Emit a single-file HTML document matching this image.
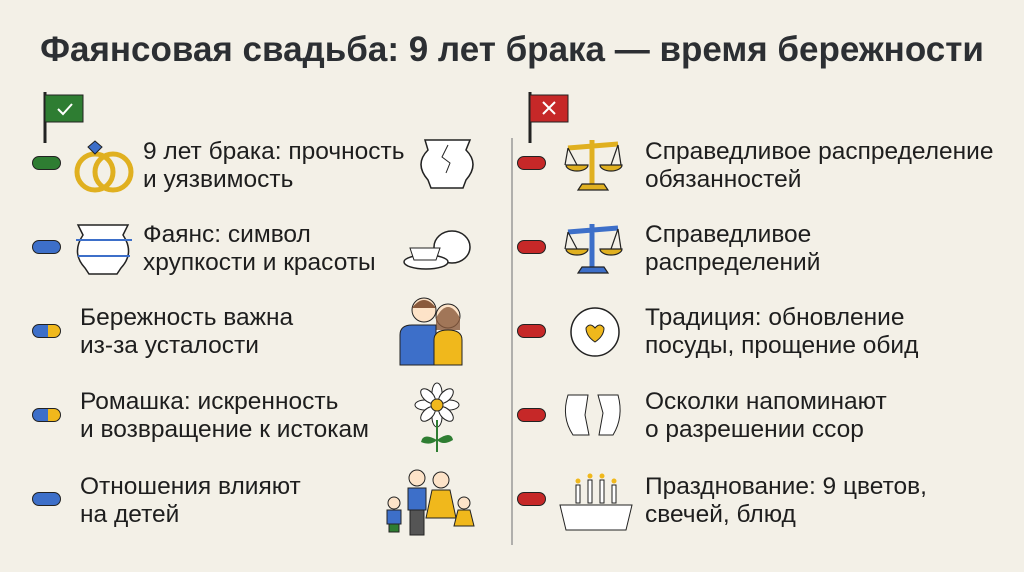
<!DOCTYPE html><html><head><meta charset="utf-8"><style>
body{margin:0;width:1024px;height:572px;background:#f3f0e7;font-family:"Liberation Sans",sans-serif;position:relative;overflow:hidden;color:#1e1e1e}
.t{position:absolute;font-size:24.5px;line-height:28px;white-space:nowrap}
.p{position:absolute;width:29px;height:14px;border-radius:7px;border:1.5px solid #222;box-sizing:border-box}
h1{position:absolute;left:0;width:1024px;top:30px;margin:0;text-align:center;font-size:35px;font-weight:bold;color:#2c2f33}
svg{position:absolute}
</style></head><body>
<h1>Фаянсовая свадьба: 9 лет брака — время бережности</h1>
<svg style="left:0;top:0" width="1024" height="572">
<line x1="45" y1="92" x2="45" y2="143" stroke="#222" stroke-width="3"/>
<rect x="45" y="95" width="38" height="27" fill="#2e7d32" stroke="#222"/>
<path d="M58 109l5 5 9-10" stroke="#fff" stroke-width="2" fill="none"/>
<line x1="530" y1="92" x2="530" y2="143" stroke="#222" stroke-width="3"/>
<rect x="530" y="95" width="38" height="27" fill="#c62828" stroke="#222"/>
<path d="M543 102l12 12M555 102l-12 12" stroke="#fff" stroke-width="2"/>
<line x1="512" y1="138" x2="512" y2="545" stroke="#999" stroke-width="1.5"/>
<!-- rings -->
<circle cx="95" cy="172" r="18" fill="none" stroke="#e0b020" stroke-width="5"/>
<circle cx="113" cy="172" r="18" fill="none" stroke="#e0b020" stroke-width="5"/>
<path d="M88 147l7-6 7 6-7 7z" fill="#3d6fc9" stroke="#222"/>
<!-- vases -->
<path d="M425 140h45l-4 10q14 14 0 30l-3 8h-32l-3-8q-14-16 0-30z" fill="#fff" stroke="#222" stroke-width="1.5"/>
<path d="M448 145l-6 12 8 6-4 10" stroke="#222" fill="none"/>
<path d="M78 225h50l-5 10q12 18-2 33l-4 6h-28l-4-6q-14-15-2-33z" fill="#fff" stroke="#222" stroke-width="1.5"/>
<path d="M76 240h56M78 256h52" stroke="#3d6fc9" stroke-width="2"/>
<!-- teapot -->
<ellipse cx="452" cy="247" rx="18" ry="16" fill="#fff" stroke="#222" stroke-width="1.5"/>
<ellipse cx="426" cy="262" rx="22" ry="7" fill="#fff" stroke="#222" stroke-width="1.5"/>
<path d="M410 248h30l-4 12h-22z" fill="#fff" stroke="#222"/>
<!-- couple -->
<circle cx="424" cy="310" r="12" fill="#fde3c8" stroke="#222"/><path d="M412 308q12-16 24 0" fill="#8a5a3c"/>
<circle cx="448" cy="316" r="12" fill="#fde3c8" stroke="#222"/><path d="M436 318q12-22 24 0v12h-24z" fill="#8a5a3c" opacity=".8"/>
<path d="M400 365v-30q0-10 12-10h24v40z" fill="#3d6fc9" stroke="#222"/>
<path d="M434 365v-25q0-10 14-10t14 10v25z" fill="#f0b81c" stroke="#222"/>
<!-- daisy -->
<g transform="translate(437,405)" fill="#fff" stroke="#222">
<ellipse cx="0" cy="-12" rx="5" ry="10"/><ellipse cx="0" cy="12" rx="5" ry="10"/><ellipse cx="-12" cy="0" rx="10" ry="5"/><ellipse cx="12" cy="0" rx="10" ry="5"/>
<ellipse cx="-9" cy="-9" rx="5" ry="9" transform="rotate(-45 -9 -9)"/><ellipse cx="9" cy="9" rx="5" ry="9" transform="rotate(-45 9 9)"/>
<ellipse cx="9" cy="-9" rx="5" ry="9" transform="rotate(45 9 -9)"/><ellipse cx="-9" cy="9" rx="5" ry="9" transform="rotate(45 -9 9)"/>
<circle r="6" fill="#f0b81c"/></g>
<path d="M437 420v32" stroke="#2e7d32" stroke-width="2"/><path d="M437 440q-14-8-16 2q10 4 16-2M437 440q14-10 16 0q-10 6-16 0" fill="#2e7d32"/>
<!-- family -->
<g stroke="#222">
<circle cx="417" cy="478" r="8" fill="#fde3c8"/><rect x="408" y="488" width="18" height="22" fill="#3d6fc9"/><rect x="410" y="510" width="14" height="25" fill="#555"/>
<circle cx="441" cy="480" r="8" fill="#fde3c8"/><path d="M432 490h18l6 28h-30z" fill="#f0b81c"/>
<circle cx="394" cy="503" r="6" fill="#fde3c8"/><rect x="387" y="510" width="14" height="14" fill="#3d6fc9"/><rect x="389" y="524" width="10" height="8" fill="#2e7d32"/>
<circle cx="464" cy="503" r="6" fill="#fde3c8"/><path d="M458 510h12l4 16h-20z" fill="#f0b81c"/>
</g>
<!-- scales -->
<g stroke="#222" stroke-width="1.2">
<path d="M568 148l50-4M592 140v45" stroke="#e0b020" stroke-width="5"/><path d="M578 190h30l-4-6h-22z" fill="#e0b020"/>
<path d="M566 165a11 6 0 0 0 22 0z" fill="#e0b020"/><path d="M600 165a11 6 0 0 0 22 0z" fill="#e0b020"/>
<path d="M568 148l-3 17M568 148l9 17M618 145l-7 20M618 145l3 20" fill="none"/>
<path d="M568 232l50-4M592 224v45" stroke="#3d6fc9" stroke-width="5"/><path d="M578 273h30l-4-6h-22z" fill="#3d6fc9"/>
<path d="M566 249a11 6 0 0 0 22 0z" fill="#e0b020"/><path d="M600 249a11 6 0 0 0 22 0z" fill="#e0b020"/>
<path d="M568 232l-3 17M568 232l9 17M618 229l-7 20M618 229l3 20" fill="none"/>
</g>
<!-- plate -->
<circle cx="595" cy="332" r="24" fill="#fff" stroke="#222" stroke-width="1.5"/><path d="M586 328q4-6 9 0q5-6 9 0q0 8-9 14q-9-6-9-14z" fill="#f0b81c" stroke="#222"/>
<!-- shards -->
<path d="M568 395h20l-3 20l4 20h-16q-12-18-5-40z" fill="#fff" stroke="#222"/><path d="M598 395h20q6 22-5 40h-14l4-22z" fill="#fff" stroke="#222"/>
<!-- table -->
<path d="M560 505h72l-6 25h-60z" fill="#fff" stroke="#222"/>
<g stroke="#222" fill="#fff"><rect x="576" y="485" width="4" height="18"/><rect x="588" y="480" width="4" height="23"/><rect x="600" y="480" width="4" height="23"/><rect x="612" y="485" width="4" height="18"/></g>
<g fill="#f0b81c"><circle cx="578" cy="481" r="2.5"/><circle cx="590" cy="476" r="2.5"/><circle cx="602" cy="476" r="2.5"/><circle cx="614" cy="481" r="2.5"/></g>
</svg>
<div class="p" style="left:32px;top:156px;background:#2e7d32"></div>
<div class="p" style="left:32px;top:240px;background:#3d6fc9"></div>
<div class="p" style="left:32px;top:324px;background:linear-gradient(90deg,#3d6fc9 55%,#f0b81c 55%)"></div>
<div class="p" style="left:32px;top:408px;background:linear-gradient(90deg,#3d6fc9 55%,#f0b81c 55%)"></div>
<div class="p" style="left:32px;top:492px;background:#3d6fc9"></div>
<div class="p" style="left:517px;top:156px;background:#c62828"></div>
<div class="p" style="left:517px;top:240px;background:#c62828"></div>
<div class="p" style="left:517px;top:324px;background:#c62828"></div>
<div class="p" style="left:517px;top:408px;background:#c62828"></div>
<div class="p" style="left:517px;top:492px;background:#c62828"></div>
<div class="t" style="left:143px;top:138px">9 лет брака: прочность<br>и уязвимость</div>
<div class="t" style="left:143px;top:221px">Фаянс: символ<br>хрупкости и красоты</div>
<div class="t" style="left:80px;top:304px">Бережность важна<br>из-за усталости</div>
<div class="t" style="left:80px;top:388px">Ромашка: искренность<br>и возвращение к истокам</div>
<div class="t" style="left:80px;top:473px">Отношения влияют<br>на детей</div>
<div class="t" style="left:645px;top:138px">Справедливое распределение<br>обязанностей</div>
<div class="t" style="left:645px;top:221px">Справедливое<br>распределений</div>
<div class="t" style="left:645px;top:304px">Традиция: обновление<br>посуды, прощение обид</div>
<div class="t" style="left:645px;top:388px">Осколки напоминают<br>о разрешении ссор</div>
<div class="t" style="left:645px;top:473px">Празднование: 9 цветов,<br>свечей, блюд</div>
</body></html>
